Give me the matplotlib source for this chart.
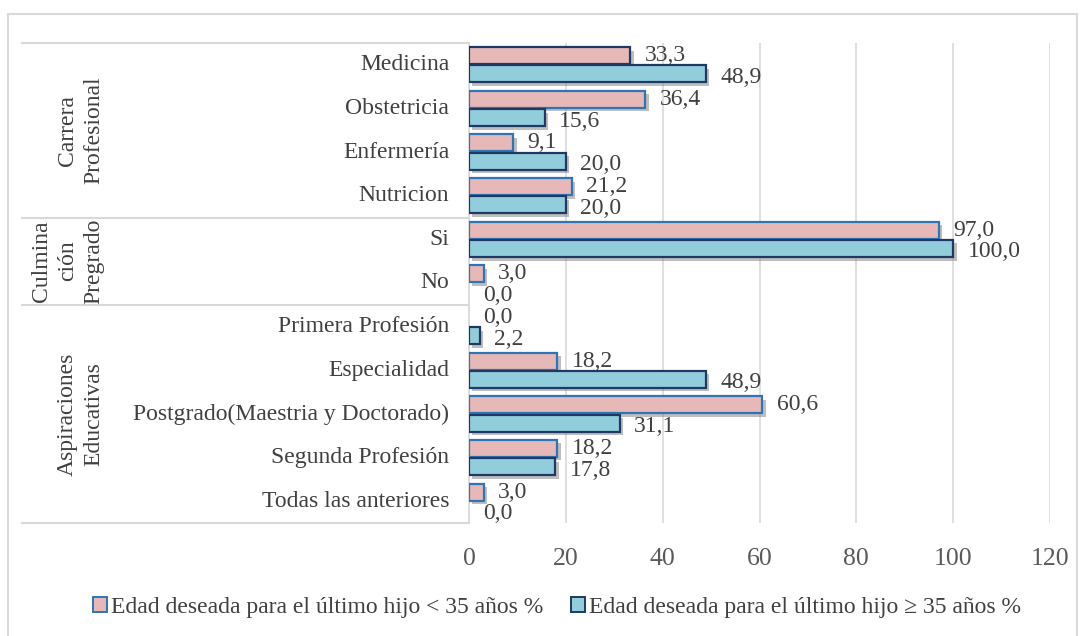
import numpy as np
import matplotlib.pyplot as plt
import matplotlib.patheffects as pe
from matplotlib.patches import Patch, Rectangle
from matplotlib.lines import Line2D

# ── Data ──────────────────────────────────────────────────────────────────────
categories = ["Medicina", "Obstetricia", "Enfermería", "Nutricion",
              "Si", "No",
              "Primera Profesión", "Especialidad",
              "Postgrado(Maestria y Doctorado)", "Segunda Profesión",
              "Todas las anteriores"]
groups = ["Carrera\nProfesional", "Culmina\nción\nPregrado", "Aspiraciones\nEducativas"]
group_sizes = [4, 2, 5]

menor_35 = [33.3, 36.4, 9.1, 21.2, 97.0, 3.0, 0.0, 18.2, 60.6, 18.2, 3.0]
mayor_35 = [48.9, 15.6, 20.0, 20.0, 100.0, 0.0, 2.2, 48.9, 31.1, 17.8, 0.0]

series_names = ["Edad deseada para el último hijo < 35 años %",
                "Edad deseada para el último hijo ≥ 35 años %"]
x_ticks = [0, 20, 40, 60, 80, 100, 120]

# ── Style ─────────────────────────────────────────────────────────────────────
PINK, CYAN = "#E6B9B8", "#92CDDC"
BLUE_EDGE, NAVY_EDGE = "#2E75B6", "#1F3864"
GRID = "#D9D9D9"
TXT = "#404040"
plt.rcParams["font.family"] = ["Liberation Serif", "DejaVu Serif"]
FS = 17

W, H = 1084, 636
fig = plt.figure(figsize=(W / 100, H / 100), dpi=100)
left, right, top, bottom = 469, 1050, 43, 523
ax = fig.add_axes([left / W, 1 - bottom / H, (right - left) / W, (bottom - top) / H])

n = len(categories)
y = np.arange(n)
h = 0.39
shadow = [pe.SimplePatchShadow(offset=(2.5, -2.5), shadow_rgbFace="#7f7f7f", alpha=0.5),
          pe.Normal()]

b1 = ax.barh(y - 0.21, menor_35, height=h, color=PINK, edgecolor=BLUE_EDGE,
             linewidth=1.6, zorder=3)
b2 = ax.barh(y + 0.21, mayor_35, height=h, color=CYAN, edgecolor=NAVY_EDGE,
             linewidth=1.6, zorder=3)
b1[0].set_edgecolor(NAVY_EDGE)
for b in list(b1) + list(b2):
    if b.get_width() > 0:
        b.set_path_effects(shadow)
    else:
        b.set_visible(False)

# value labels (pink a touch higher, cyan a touch lower, like the original)
for vals, off, dy in ((menor_35, -0.21, 0.0), (mayor_35, 0.21, -2.5)):
    for yi, v in zip(y, vals):
        ax.annotate(f"{v:.1f}".replace(".", ","), (v, yi + off),
                    xytext=(10.5, dy), textcoords="offset points",
                    ha="left", va="center", fontsize=FS, color=TXT, zorder=4)

ax.set_xlim(0, 120)
ax.set_ylim(n - 0.5, -0.5)
ax.set_xticks(x_ticks)
ax.set_xticklabels([str(t) for t in x_ticks], fontsize=18.5, color="#595959")
ax.tick_params(axis="x", length=0, pad=18)
ax.set_yticks([])
ax.grid(axis="x", color=GRID, linewidth=1.2, zorder=0)
for s in ("top", "right", "bottom"):
    ax.spines[s].set_visible(False)
ax.spines["left"].set_color(GRID)
ax.spines["left"].set_linewidth(1.2)

# category labels + grouping table on the left
for yi, c in zip(y, categories):
    ax.text(-4.1, yi, c, ha="right", va="center", fontsize=FS, color=TXT,
            transform=ax.transData, clip_on=False)

x_tab = (22 - left) / (right - left)
x_grp = (104 - left) / (right - left)
trans = ax.get_yaxis_transform()
start = -0.5
for g, size in zip(groups, group_sizes):
    ax.add_line(Line2D([x_tab, 0], [start, start], transform=trans, color=GRID,
                       linewidth=1.5, clip_on=False))
    mid = start + size / 2
    ax.text(x_grp, mid, g, rotation=90, ha="right", va="center",
            multialignment="center", fontsize=FS, color=TXT,
            linespacing=1.3, transform=trans, clip_on=False)
    start += size
ax.add_line(Line2D([x_tab, 0], [start, start], transform=trans, color=GRID,
                   linewidth=1.5, clip_on=False))

# outer frame
fig.patches.append(Rectangle((8 / W, -0.01), (1077 - 8) / W, 1 - 14 / H + 0.01,
                             transform=fig.transFigure, fill=False,
                             edgecolor=GRID, linewidth=1.5))

handles = [Patch(facecolor=PINK, edgecolor=BLUE_EDGE, linewidth=1.4),
           Patch(facecolor=CYAN, edgecolor=NAVY_EDGE, linewidth=1.4)]
leg = fig.legend(handles, series_names, loc="center", ncol=2,
                 bbox_to_anchor=(557 / W, 1 - 607 / H), frameon=False,
                 fontsize=FS, handlelength=0.6, handleheight=0.6,
                 handletextpad=0.15, columnspacing=1.2)
for t in leg.get_texts():
    t.set_color(TXT)

fig.savefig("out.png", dpi=100)
